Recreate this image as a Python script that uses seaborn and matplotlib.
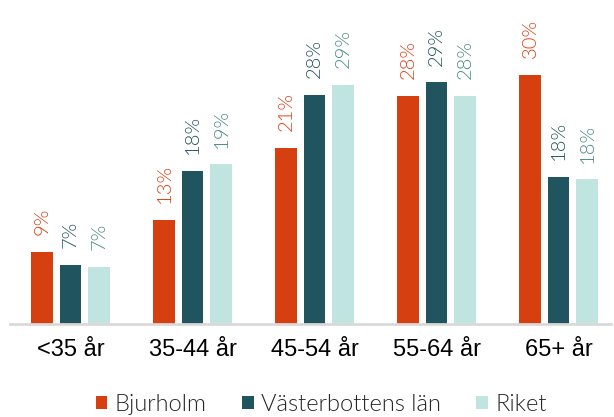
import matplotlib
matplotlib.use("Agg")
import matplotlib.pyplot as plt
import seaborn as sns
import pandas as pd
from matplotlib.patches import Patch

categories = ["<35 år", "35-44 år", "45-54 år", "55-64 år", "65+ år"]
series = ["Bjurholm", "Västerbottens län", "Riket"]
bjurholm = [8.7, 12.5, 21.2, 27.5, 30.0]
vasterbotten = [7.1, 18.4, 27.6, 29.1, 17.7]
riket = [6.9, 19.2, 28.8, 27.5, 17.4]
labels_bj = ["9%", "13%", "21%", "28%", "30%"]
labels_vb = ["7%", "18%", "28%", "29%", "18%"]
labels_ri = ["7%", "19%", "29%", "28%", "18%"]

bar_colors = ["#D63F10", "#20555F", "#C0E4E0"]
label_colors = ["#D9441A", "#24585F", "#4A8C8A"]

rows = []
for name, vals in zip(series, [bjurholm, vasterbotten, riket]):
    for c, v in zip(categories, vals):
        rows.append({"cat": c, "series": name, "value": v})
df = pd.DataFrame(rows)

sns.set_theme(style="white")
plt.rcParams["font.family"] = ["Liberation Sans", "DejaVu Sans"]

fig = plt.figure(figsize=(6.14, 4.17), dpi=100)
ax = fig.add_axes([10 / 614, (417 - 324) / 417, 601 / 614, 324 / 417])

sns.barplot(data=df, x="cat", y="value", hue="series", order=categories,
            hue_order=series, palette=bar_colors, width=0.7, gap=0.23,
            saturation=1, legend=False, ax=ax, edgecolor="none")

ax.set_xlim(-0.496, 4.43)
ax.set_ylim(0, 39)

all_labels = [labels_bj, labels_vb, labels_ri]
for i, cont in enumerate(ax.containers):
    for rect, lab in zip(cont, all_labels[i]):
        x = rect.get_x() + rect.get_width() / 2
        h = rect.get_height()
        ax.annotate(lab, (x, h), xytext=(0, 12), textcoords="offset points",
                    rotation=90, ha="center", va="bottom",
                    fontsize=14.5, color=label_colors[i],
                    family=["Lato", "DejaVu Sans"], fontweight=300)

for s in ["top", "right", "left"]:
    ax.spines[s].set_visible(False)
ax.spines["bottom"].set_color("#D9D9D9")
ax.spines["bottom"].set_linewidth(2)
ax.set_yticks([])
ax.set_xlabel("")
ax.set_ylabel("")
ax.tick_params(axis="x", length=0, pad=11, labelsize=17, colors="black")

handles = [Patch(facecolor=c, edgecolor="none") for c in bar_colors]
leg = fig.legend(handles, series, loc="center", bbox_to_anchor=(0.523, 0.03),
                 ncol=3, frameon=False, handlelength=0.5, handleheight=0.5,
                 handletextpad=0.3, columnspacing=1.5, borderpad=0.1,
                 prop={"family": ["Lato", "DejaVu Sans"], "weight": 300, "size": 17})
for t in leg.get_texts():
    t.set_color("#262626")

fig.savefig("out.png", dpi=100)
